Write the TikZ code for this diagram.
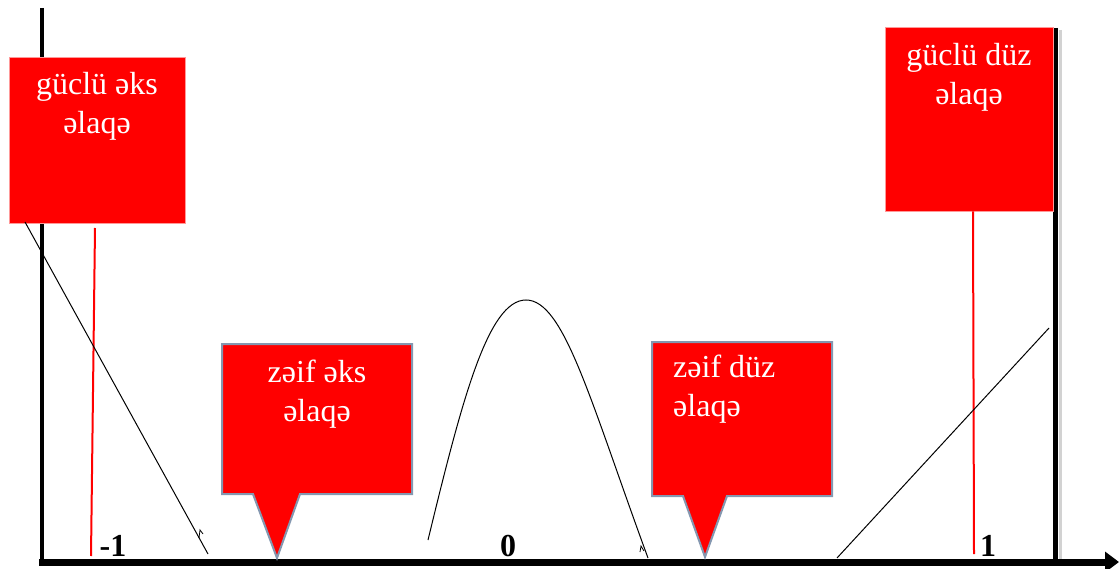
\documentclass[tikz,border=0pt]{standalone}
\usepackage{fontspec}
\setmainfont{Liberation Serif}
\usetikzlibrary{arrows.meta}
\definecolor{boxred}{RGB}{255,0,0}
\definecolor{calloutedge}{RGB}{132,151,176}
\tikzset{
  redbox/.style={fill=boxred, draw=boxred!40, line width=0.8pt},
  callout/.style={fill=boxred, draw=calloutedge, line width=2pt, line join=miter},
  boxtext/.style={text=white, font=\fontsize{32}{39}\selectfont, align=center, inner sep=0pt},
  ticklabel/.style={font=\fontsize{32}{32}\selectfont\bfseries, inner sep=0pt},
  axis/.style={line width=4pt, black},
  thin curve/.style={line width=1pt, black},
  redline/.style={line width=2pt, boxred}
}
\begin{document}
\begin{tikzpicture}[x=1pt,y=-1pt]
\useasboundingbox (0,0) rectangle (1119,569);
% axes
\draw[axis] (42,8) -- (42,566);
\draw[line width=3pt, gray!35] (1060,30) -- (1060,560);
\draw[axis, line width=5pt] (1055,28) -- (1055,562);
\draw[line width=7pt, -{Triangle[length=14pt,width=20pt]}] (39,562) -- (1119,562);
% top-left box
\node[redbox, minimum width=176pt, minimum height=166pt, inner sep=0pt] (gaks) at (97,140) {};
\node[boxtext, anchor=north] (gakstext) at (97,72) {güclü əks\\əlaqə};
% top-right box
\node[redbox, minimum width=168pt, minimum height=184pt, inner sep=0pt] (gduz) at (969,119) {};
\node[boxtext, anchor=north] (gduztext) at (969,43) {güclü düz\\əlaqə};
% red lines
\coordinate (r1b) at (91,556);
\coordinate (r2b) at (974,554);
\draw[redline] (95,228) -- (r1b);
\draw[redline] (gduz.south -| 973,0) -- (r2b);
% callout zəif əks
\draw[callout] (222,344) -- (412,344) -- (412,494) -- (300,494) -- (277,558) -- (253,494) -- (222,494) -- cycle;
\node[boxtext, anchor=north] (zaks) at (317,360) {zəif əks\\əlaqə};
% callout zəif düz
\draw[callout] (652,342) -- (832,342) -- (832,496) -- (727,496) -- (705,557) -- (683,496) -- (652,496) -- cycle;
\node[boxtext, anchor=north west, align=left] (zduz) at (673,355) {zəif düz\\əlaqə};
% black lines
\coordinate (a1) at (25,222);
\coordinate (a2) at (208,554);
\draw[thin curve] (a1) -- (a2);
\draw[line width=0.8pt] (199,538) -- (200,530) -- (203,534);
\coordinate (b1) at (837,558);
\coordinate (b2) at (1049,328);
\draw[thin curve] (b1) -- (b2);
% parabola
\coordinate (p1) at (428,540);
\coordinate (ptop) at (526,300);
\coordinate (p2) at (648,558);
\draw[thin curve] (p1) .. controls (462,400) and (488,300) .. (ptop) .. controls (564,300) and (590,400) .. (p2);
\draw[line width=0.8pt] (640,552) -- (641,546) -- (644,551);
% tick labels
\node[ticklabel, anchor=base] (m1) at (113,556) {-1};
\node[ticklabel, anchor=base] (zero) at (508,556) {0};
\node[ticklabel, anchor=base] (one) at (988,556) {1};
\end{tikzpicture}
\end{document}
